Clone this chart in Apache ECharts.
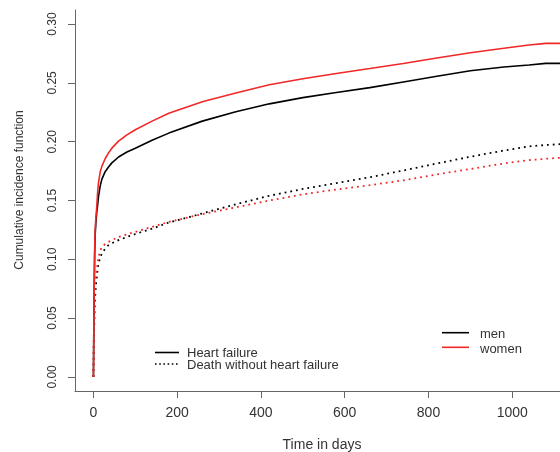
<!DOCTYPE html>
<html>
<head>
<meta charset="utf-8">
<script src="https://cdn.jsdelivr.net/npm/echarts@6/dist/echarts.min.js"></script>
<style>
html,body{margin:0;padding:0;background:#fff;}
#chart{width:560px;height:452px;}
</style>
</head>
<body>
<div id="chart"></div>
<script>
// ---- data ----
const days = [0, 0.5, 1, 2, 3, 4, 6, 8, 10, 12, 16, 20, 28, 36, 44, 60, 80, 100, 140, 180, 260, 340, 420, 500, 580, 660, 740, 820, 900, 980, 1040, 1080, 1114];
const womenHF = [0, 0.02, 0.045, 0.08, 0.11, 0.125, 0.136, 0.145, 0.157, 0.165, 0.174, 0.179, 0.1855, 0.1905, 0.1945, 0.2005, 0.2058, 0.2102, 0.2175, 0.2242, 0.234, 0.2415, 0.2485, 0.2535, 0.258, 0.2622, 0.2665, 0.2712, 0.2757, 0.2795, 0.2822, 0.2836, 0.2836];
const menHF = [0, 0.02, 0.045, 0.08, 0.105, 0.12, 0.132, 0.14, 0.146, 0.153, 0.162, 0.168, 0.1745, 0.1785, 0.182, 0.187, 0.1912, 0.1945, 0.2013, 0.2073, 0.2175, 0.2255, 0.2322, 0.2375, 0.2418, 0.246, 0.2508, 0.2557, 0.2603, 0.2635, 0.2652, 0.2666, 0.2666];
const menDeath = [0, 0.015, 0.03, 0.045, 0.058, 0.068, 0.078, 0.085, 0.091, 0.0965, 0.101, 0.105, 0.109, 0.112, 0.1137, 0.1163, 0.119, 0.1215, 0.126, 0.1313, 0.139, 0.1468, 0.154, 0.1598, 0.1648, 0.1698, 0.1755, 0.1815, 0.1872, 0.1925, 0.196, 0.1972, 0.1979];
const womenDeath = [0, 0.02, 0.04, 0.06, 0.072, 0.0794, 0.086, 0.0908, 0.097, 0.102, 0.107, 0.1106, 0.113, 0.1148, 0.1163, 0.119, 0.1212, 0.1233, 0.1276, 0.1318, 0.1384, 0.1442, 0.15, 0.1552, 0.1594, 0.163, 0.1672, 0.1722, 0.1768, 0.1815, 0.1843, 0.1855, 0.1863];
const xTicks = [0, 200, 400, 600, 800, 1000];
const yTicks = [0, 0.05, 0.10, 0.15, 0.20, 0.25, 0.30];
const xTitle = 'Time in days';
const yTitle = 'Cumulative incidence function';
const eventLabels = ['Heart failure', 'Death without heart failure'];
const groupLabels = ['men', 'women'];

// ---- styling ----
const FONT = '"Liberation Sans", Arial, sans-serif';
const RED = '#f02828';
const BLACK = '#000000';
const AXIS = '#666666';
const TEXT = '#333333';
const pts = arr => days.map((d, i) => [d, arr[i]]);
const solid = {width: 1.6, type: 'solid'};
const dotted = {width: 1.8, type: [1.8, 4]};

const chart = echarts.init(document.getElementById('chart'), null, {renderer: 'canvas'});
chart.setOption({
  animation: false,
  backgroundColor: '#ffffff',
  grid: {left: 75, right: 0, top: 10, bottom: 61, containLabel: false},
  xAxis: {
    type: 'value', min: -44, max: 1114,
    splitLine: {show: false},
    axisLine: {show: true, onZero: false, lineStyle: {color: AXIS, width: 1}},
    axisTick: {show: true, inside: false, length: 7, customValues: xTicks, lineStyle: {color: AXIS}},
    axisLabel: {show: true, customValues: xTicks, margin: 15, color: TEXT, fontFamily: FONT, fontSize: 14,
      formatter: v => String(v)},
    minorTick: {show: false}
  },
  yAxis: {
    type: 'value', min: -0.012, max: 0.312,
    splitLine: {show: false},
    axisLine: {show: true, onZero: false, lineStyle: {color: AXIS, width: 1}},
    axisTick: {show: true, inside: false, length: 7, customValues: yTicks, lineStyle: {color: AXIS}},
    axisLabel: {show: true, customValues: yTicks, rotate: 90, margin: 16, color: TEXT, fontFamily: FONT, fontSize: 12,
      formatter: v => v.toFixed(2)}
  },
  series: [
    {name: 'men HF', type: 'line', data: pts(menHF), showSymbol: false, lineStyle: Object.assign({color: BLACK}, solid), z: 3},
    {name: 'women HF', type: 'line', data: pts(womenHF), showSymbol: false, lineStyle: Object.assign({color: RED}, solid), z: 4},
    {name: 'men death', type: 'line', data: pts(menDeath), showSymbol: false, lineStyle: Object.assign({color: BLACK}, dotted), z: 3},
    {name: 'women death', type: 'line', data: pts(womenDeath), showSymbol: false, lineStyle: Object.assign({color: RED}, dotted), z: 4}
  ],
  graphic: [
    {type: 'text', x: 322, y: 445, style: {text: xTitle, font: '14px ' + FONT, fill: TEXT, align: 'center', verticalAlign: 'middle'}},
    {type: 'text', x: 20, y: 190, rotation: Math.PI / 2, style: {text: yTitle, font: '12px ' + FONT, fill: TEXT, align: 'center', verticalAlign: 'middle'}},
    // legend: event types
    {type: 'line', shape: {x1: 155, y1: 352.5, x2: 179, y2: 352.5}, style: {stroke: BLACK, lineWidth: 1.6}},
    {type: 'text', x: 187, y: 353, style: {text: eventLabels[0], font: '13px ' + FONT, fill: TEXT, align: 'left', verticalAlign: 'middle'}},
    {type: 'line', shape: {x1: 155, y1: 364, x2: 179, y2: 364}, style: {stroke: BLACK, lineWidth: 1.6, lineDash: [1.6, 2.6]}},
    {type: 'text', x: 187, y: 365, style: {text: eventLabels[1], font: '13px ' + FONT, fill: TEXT, align: 'left', verticalAlign: 'middle'}},
    // legend: groups
    {type: 'line', shape: {x1: 442, y1: 332.7, x2: 469, y2: 332.7}, style: {stroke: BLACK, lineWidth: 1.6}},
    {type: 'text', x: 480, y: 334, style: {text: groupLabels[0], font: '13px ' + FONT, fill: TEXT, align: 'left', verticalAlign: 'middle'}},
    {type: 'line', shape: {x1: 442, y1: 347.3, x2: 469, y2: 347.3}, style: {stroke: RED, lineWidth: 1.6}},
    {type: 'text', x: 480, y: 349, style: {text: groupLabels[1], font: '13px ' + FONT, fill: TEXT, align: 'left', verticalAlign: 'middle'}}
  ]
});
</script>
</body>
</html>
